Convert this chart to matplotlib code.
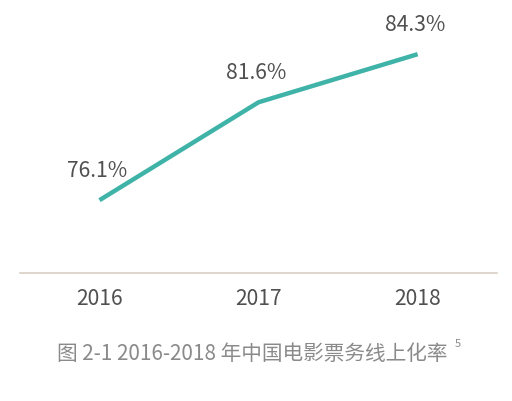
import matplotlib
matplotlib.use("Agg")
import matplotlib.pyplot as plt

plt.rcParams['font.family'] = ['Noto Sans CJK SC', 'DejaVu Sans']

# data
years = ["2016", "2017", "2018"]
rate = [76.1, 81.6, 84.3]
labels = ["76.1%", "81.6%", "84.3%"]
caption = "图 2-1 2016-2018 年中国电影票务线上化率"

fig = plt.figure(figsize=(5.12, 4.02), dpi=100)
ax = fig.add_axes([0.039, 0.318, 0.932, 0.682])

x = list(range(len(years)))
ax.plot(x, rate, color="#3fb3a7", lw=3.2, solid_capstyle="butt", solid_joinstyle="round")

for xi, yi, lab in zip(x, rate, labels):
    ax.annotate(lab, (xi, yi), xytext=(-2, 30), textcoords="offset pixels",
                ha="center", va="center", fontsize=15.2, color="#505050")

ax.set_xlim(-0.5, 2.5)
ax.set_ylim(72.0, 87.4)
ax.set_xticks(x)
ax.set_xticklabels(years, fontsize=15.2, color="#505050")
ax.tick_params(axis="x", length=0, pad=10)
ax.set_yticks([])
for s in ["top", "right", "left"]:
    ax.spines[s].set_visible(False)
ax.spines["bottom"].set_color("#d9d0c5")
ax.spines["bottom"].set_linewidth(1.2)

fig.text(252 / 512, 1 - 354 / 402, caption, ha="center", va="center",
         fontsize=14.9, color="#8a8a8a")
fig.text(458 / 512, 1 - 344 / 402, "5", ha="center", va="center",
         fontsize=8, color="#8a8a8a")

fig.savefig("out.png", dpi=100)
